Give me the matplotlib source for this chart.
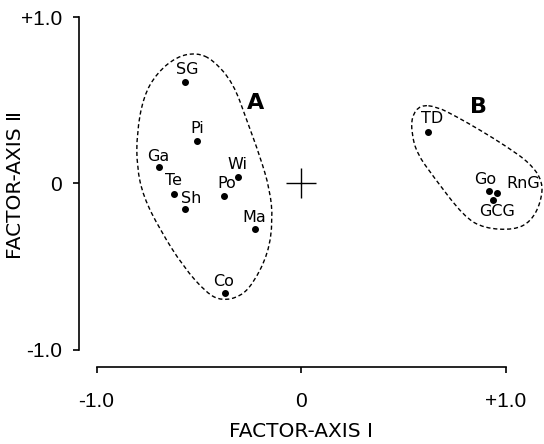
import matplotlib
matplotlib.use("Agg")
import matplotlib.pyplot as plt
from matplotlib.path import Path
from matplotlib.patches import PathPatch

# Site scores on the first two factor axes
names = ["SG", "Pi", "Ga", "Wi", "Te", "Po", "Sh", "Ma", "Co",
         "TD", "Go", "RnG", "GCG"]
axis1 = [-0.567, -0.507, -0.694, -0.307, -0.621, -0.378, -0.569, -0.223, -0.373,
         0.620, 0.919, 0.958, 0.940]
axis2 = [0.613, 0.256, 0.098, 0.037, -0.063, -0.075, -0.155, -0.272, -0.658,
         0.310, -0.043, -0.055, -0.099]
# label offsets in pixels (dx, dy) relative to each point
label_offsets = [(2, 12), (0, 12), (-1, 11), (-1, 13), (-1, 13), (3, 12), (7, 11), (-1, 11), (-1, 11),
                 (4, 14), (-4, 11), (26, 9), (4, -12)]

# Hand-drawn group outlines
hull_a_x = [-0.510, -0.429, -0.331, -0.266, -0.200, -0.152, -0.138, -0.160, -0.233, -0.298,
            -0.388, -0.461, -0.576, -0.689, -0.771, -0.803, -0.803, -0.771, -0.706, -0.608]
hull_a_y = [0.788, 0.744, 0.604, 0.383, 0.161, -0.039, -0.220, -0.420, -0.601, -0.682,
            -0.706, -0.661, -0.501, -0.280, -0.080, 0.101, 0.302, 0.523, 0.664, 0.764]
hull_b_x = [0.582, 0.664, 0.761, 0.875, 1.006, 1.120, 1.183, 1.172, 1.123, 1.042,
            0.895, 0.797, 0.647, 0.566, 0.541, 0.541]
hull_b_y = [0.473, 0.463, 0.402, 0.322, 0.222, 0.122, 0.011, -0.117, -0.230, -0.280,
            -0.270, -0.200, 0.041, 0.182, 0.302, 0.402]

groups = ["A", "B"]
group_x = [-0.222, 0.870]
group_y = [0.482, 0.458]


def smooth_closed(xs, ys):
    pts = list(zip(xs, ys))
    n = len(pts)
    mid = lambda p, q: ((p[0] + q[0]) / 2, (p[1] + q[1]) / 2)
    verts = [mid(pts[0], pts[1])]
    codes = [Path.MOVETO]
    for i in range(1, n + 1):
        verts.append(pts[i % n])
        verts.append(mid(pts[i % n], pts[(i + 1) % n]))
        codes += [Path.CURVE3, Path.CURVE3]
    return Path(verts, codes)


fig = plt.figure(figsize=(5.44, 4.44), dpi=100)
ax = fig.add_axes([0, 0, 1, 1])
ax.set_xlim(-1.472, 1.188)
ax.set_ylim(-1.569, 1.105)

for hx, hy in [(hull_a_x, hull_a_y), (hull_b_x, hull_b_y)]:
    ax.add_patch(PathPatch(smooth_closed(hx, hy), fill=False, ec="black",
                           lw=1.0, ls=(0, (3, 2))))

ax.plot(axis1, axis2, "o", color="black", ms=4)
for n, x, y, (dx, dy) in zip(names, axis1, axis2, label_offsets):
    ax.annotate(n, (x, y), xytext=(dx * 0.72, dy * 0.72), textcoords="offset points",
                ha="center", va="center", fontsize=11.5, family="DejaVu Sans")

for g, x, y in zip(groups, group_x, group_y):
    ax.text(x, y, g, ha="center", va="center", fontsize=16, fontweight="bold",
            family="DejaVu Sans")

# centroid cross
ax.plot([0], [0], marker="+", color="black", ms=22, mew=1.0)

for s in ["top", "right"]:
    ax.spines[s].set_visible(False)
ax.spines["left"].set_position(("data", -1.086))
ax.spines["bottom"].set_position(("data", -1.105))
ax.spines["left"].set_bounds(-1, 1)
ax.spines["bottom"].set_bounds(-1, 1)
ax.spines["left"].set_linewidth(1.2)
ax.spines["bottom"].set_linewidth(1.2)

ax.set_xticks([-1, 0, 1])
ax.set_xticklabels(["-1.0", "0", "+1.0"])
ax.set_yticks([-1, 0, 1])
ax.set_yticklabels(["-1.0", "0", "+1.0"])
ax.tick_params(axis="x", direction="out", length=4, width=1.2, pad=14, labelsize=15)
ax.tick_params(axis="y", direction="out", length=4, width=1.2, pad=8, labelsize=15)
for lab in ax.get_xticklabels() + ax.get_yticklabels():
    lab.set_family("Liberation Sans")

ax.set_xlabel("FACTOR-AXIS Ⅰ", fontsize=14.5, family="DejaVu Sans")
ax.set_ylabel("FACTOR-AXIS Ⅱ", fontsize=14.5, family="DejaVu Sans")
ax.xaxis.set_label_coords(301 / 544, 1 - 422 / 444)
ax.yaxis.set_label_coords(25 / 544, 1 - 185 / 444)

fig.savefig("out.png", dpi=100)
